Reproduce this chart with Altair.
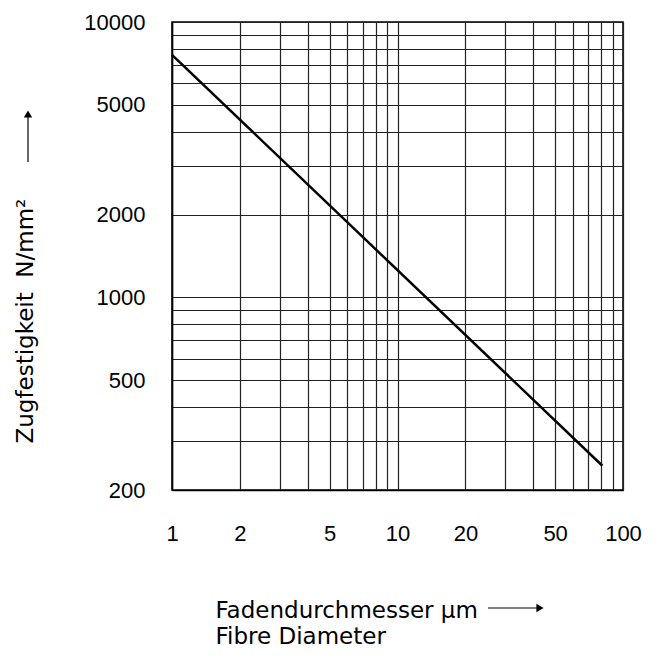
import altair as alt
import pandas as pd

# Line data
diameter = [1, 81]
strength = [7600, 245]

# Grid / tick values
x_grid = [1, 2, 3, 4, 5, 6, 7, 8, 9, 10, 20, 30, 40, 50, 60, 70, 80, 90, 100]
y_grid = [200, 300, 400, 500, 600, 700, 800, 900, 1000,
          2000, 3000, 4000, 5000, 6000, 7000, 8000, 9000, 10000]
x_labels = [1, 2, 5, 10, 20, 50, 100]
y_labels = [200, 500, 1000, 2000, 5000, 10000]

df = pd.DataFrame({"d": diameter, "s": strength})
one = pd.DataFrame({"k": [0]})


def lab_expr(vals):
    return ("indexof([" + ",".join(str(v) for v in vals) +
            "], datum.value) >= 0 ? format(datum.value, 'd') : ''")


NB = "\u00a0"

x_axis = alt.Axis(
    values=x_grid, labelExpr=lab_expr(x_labels), grid=True, ticks=False, tickSize=0,
    labelPadding=33, labelFlush=False, labelOverlap=False,
    labelFont="Liberation Sans", labelFontSize=22, labelColor="black",
    title=["Fadendurchmesser µm", "Fibre Diameter"],
    titleFont="DejaVu Sans", titleFontSize=23, titleFontWeight="normal", titleColor="black",
    titleAlign="left", titleBaseline="top", titleX=43, titleY=109, titleLineHeight=26,
)

y_axis = alt.Axis(
    values=y_grid, labelExpr=lab_expr(y_labels), grid=True, ticks=False, tickSize=0,
    labelPadding=27, labelFlush=False, labelOverlap=False,
    labelFont="Liberation Sans", labelFontSize=22, labelColor="black",
    title="Zugfestigkeit" + NB * 2 + "N/mm²",
    titleFont="DejaVu Sans", titleFontSize=23, titleFontWeight="normal", titleColor="black",
    titleAngle=270, titleAlign="left", titleBaseline="middle", titleX=-147, titleY=421,
)

line = alt.Chart(df).mark_line(color="black", strokeWidth=2.5).encode(
    x=alt.X("d:Q", scale=alt.Scale(type="log", domain=[1, 100], nice=False), axis=x_axis),
    y=alt.Y("s:Q", scale=alt.Scale(type="log", domain=[200, 10000], nice=False), axis=y_axis),
)

# Decorative arrows next to the axis titles
x_arrow_shaft = alt.Chart(one).mark_rule(color="black", strokeWidth=1.2).encode(
    x=alt.value(316), x2=alt.value(368), y=alt.value(586)
)
x_arrow_head = alt.Chart(one).mark_point(
    shape="triangle-right", filled=True, color="black", opacity=1, size=70
).encode(x=alt.value(368), y=alt.value(586))
y_arrow_shaft = alt.Chart(one).mark_rule(color="black", strokeWidth=1.2).encode(
    x=alt.value(-144), y=alt.value(140), y2=alt.value(94)
)
y_arrow_head = alt.Chart(one).mark_point(
    shape="triangle-up", filled=True, color="black", opacity=1, size=70
).encode(x=alt.value(-144), y=alt.value(92))

chart = alt.layer(line, x_arrow_shaft, x_arrow_head, y_arrow_shaft, y_arrow_head).properties(
    width=451, height=468,
    autosize=alt.AutoSizeParams(type="none"),
    padding={"left": 164, "top": 14, "right": 20, "bottom": 160},
).configure_view(
    stroke="black", strokeWidth=1.5
).configure_axis(
    gridColor="#222", gridOpacity=1, gridWidth=1.2, domainColor="black", domainWidth=1.5
)

chart.save("out.html", embed_options={"renderer": "svg", "actions": False})
